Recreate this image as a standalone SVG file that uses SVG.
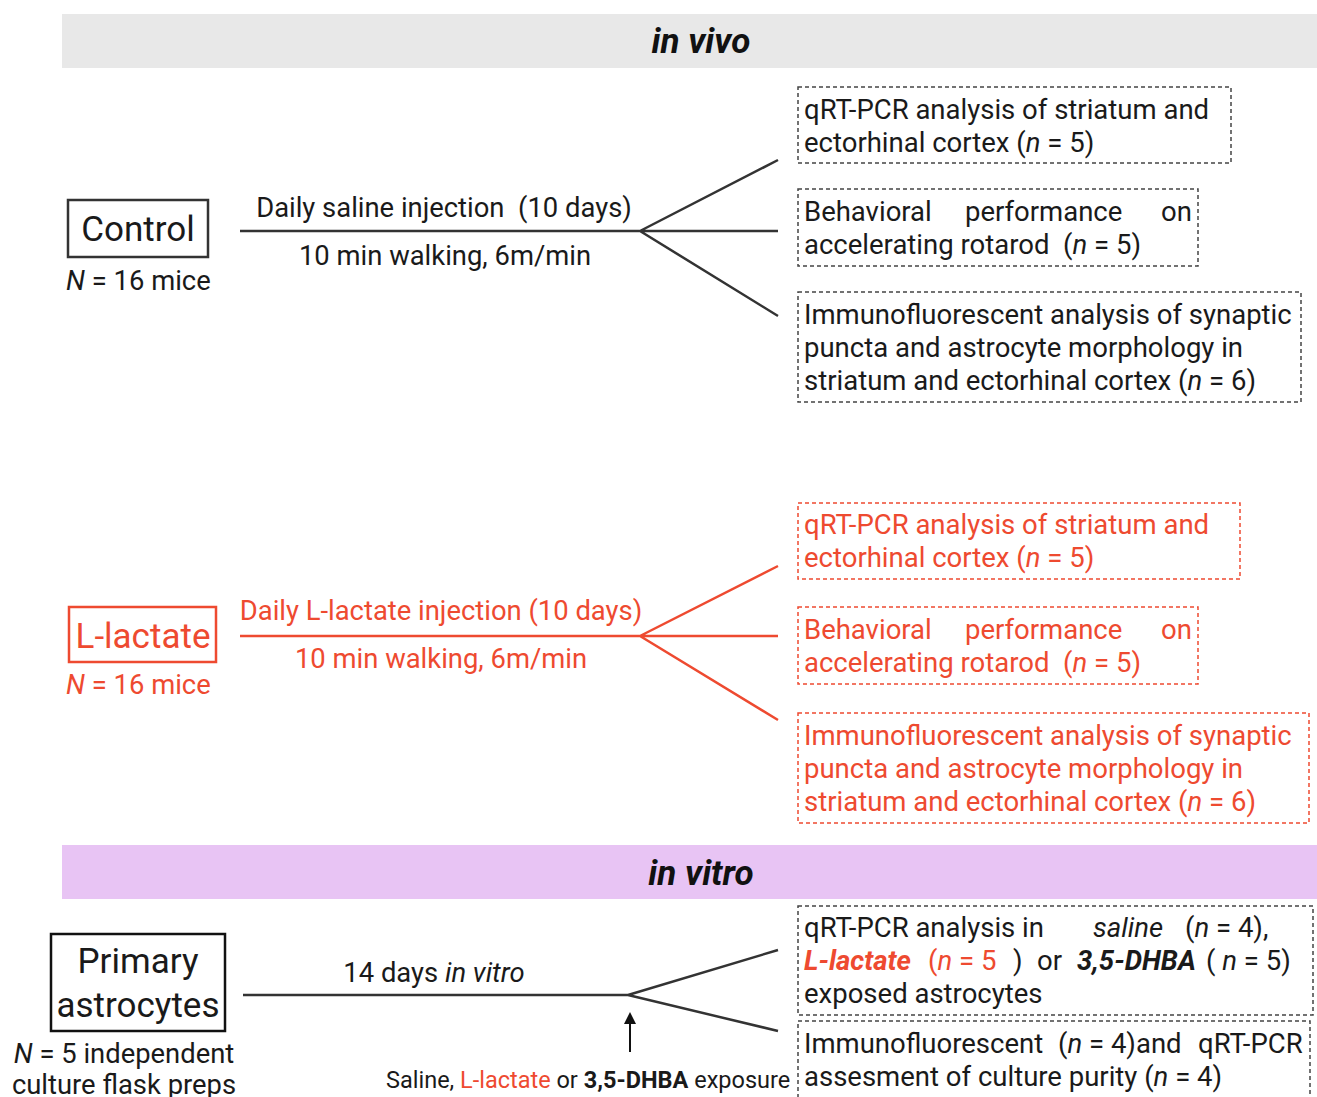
<svg xmlns="http://www.w3.org/2000/svg" width="1317" height="1097" viewBox="0 0 1317 1097">
<defs>
<style>
text{font-family:Roboto,"Liberation Sans",sans-serif;fill:#1a1a1a;white-space:pre}
.t{font-size:27.5px}
.m{font-size:27.4px}
.big{font-size:35px}
.hd{font-size:35px;font-weight:bold;font-style:italic;text-anchor:middle;fill:#111}
.i{font-style:italic}
.b{font-weight:bold}
.red{fill:#ee4a30}
.c{text-anchor:middle}
.dash{fill:none;stroke:#444;stroke-width:1.5;stroke-dasharray:4 3}
.dashr{fill:none;stroke:#ee4a30;stroke-width:1.5;stroke-dasharray:4 3}
.ln{stroke:#333;stroke-width:2.5;fill:none}
.lnr{stroke:#ee4a30;stroke-width:2.5;fill:none}
</style>
<marker id="ah" viewBox="0 0 10 10" refX="5" refY="5" markerWidth="6" markerHeight="6" orient="auto"><path d="M0,0 L10,5 L0,10 z" fill="#111"/></marker>
</defs>
<rect width="1317" height="1097" fill="#fff"/>

<g id="band-invivo"><rect x="62" y="14" width="1255" height="54" fill="#e8e8e8"/><text class="hd" x="701" y="53">in vivo</text></g>
<g id="band-invitro"><rect x="62" y="845" width="1255" height="54" fill="#e8c4f4"/><text class="hd" x="701" y="885">in vitro</text></g>

<g id="connectors">
<path class="ln" d="M240,231 H640 M640,231 L778,160 M640,231 H778 M640,231 L778,316"/>
<path class="lnr" d="M240,636 H640 M640,636 L778,566 M640,636 H778 M640,636 L778,720"/>
<path class="ln" d="M243,995 H628 M628,995 L778,950 M628,995 L778,1031"/>
<line x1="630" y1="1052" x2="630" y2="1018" stroke="#111" stroke-width="2" marker-end="url(#ah)"/>
</g>

<g id="control">
<rect x="68" y="200" width="140" height="57" fill="none" stroke="#333" stroke-width="2.5"/>
<text class="big c" x="138" y="241">Control</text>
<text class="m" x="66" y="290"><tspan class="i">N</tspan> = 16 mice</text>
</g>
<g id="control-labels">
<text class="m c" x="444" y="217">Daily saline injection  (10 days)</text>
<text class="m c" x="445" y="265">10 min walking, 6m/min</text>
</g>
<g id="c-box1"><rect class="dash" x="798" y="87" width="433" height="76"/>
<text class="t" x="804" y="119">qRT-PCR analysis of striatum and</text>
<text class="t" x="804" y="152">ectorhinal cortex (<tspan class="i">n</tspan> = 5)</text></g>
<g id="c-box2"><rect class="dash" x="798" y="189" width="400" height="77"/>
<text class="t" x="804" y="221">Behavioral</text><text class="t" x="965" y="221">performance</text><text class="t" x="1161" y="221">on</text>
<text class="t" x="804" y="254">accelerating rotarod  (<tspan class="i">n</tspan> = 5)</text></g>
<g id="c-box3"><rect class="dash" x="798" y="292" width="503" height="110"/>
<text class="t" x="804" y="324">Immunofluorescent analysis of synaptic</text>
<text class="t" x="804" y="357">puncta and astrocyte morphology in</text>
<text class="t" x="804" y="390">striatum and ectorhinal cortex (<tspan class="i">n</tspan> = 6)</text></g>

<g id="lactate">
<rect x="69" y="607" width="147" height="55" fill="none" stroke="#ee4a30" stroke-width="2.5"/>
<text class="big c red" x="143" y="648">L-lactate</text>
<text class="m red" x="66" y="694"><tspan class="i">N</tspan> = 16 mice</text>
</g>
<g id="lactate-labels">
<text class="m c red" x="441" y="620">Daily L-lactate injection (10 days)</text>
<text class="m c red" x="441" y="668">10 min walking, 6m/min</text>
</g>
<g id="l-box1"><rect class="dashr" x="798" y="503" width="442" height="76"/>
<text class="t red" x="804" y="534">qRT-PCR analysis of striatum and</text>
<text class="t red" x="804" y="567">ectorhinal cortex (<tspan class="i">n</tspan> = 5)</text></g>
<g id="l-box2"><rect class="dashr" x="798" y="607" width="400" height="77"/>
<text class="t red" x="804" y="639">Behavioral</text><text class="t red" x="965" y="639">performance</text><text class="t red" x="1161" y="639">on</text>
<text class="t red" x="804" y="672">accelerating rotarod  (<tspan class="i">n</tspan> = 5)</text></g>
<g id="l-box3"><rect class="dashr" x="798" y="713" width="511" height="110"/>
<text class="t red" x="804" y="745">Immunofluorescent analysis of synaptic</text>
<text class="t red" x="804" y="778">puncta and astrocyte morphology in</text>
<text class="t red" x="804" y="811">striatum and ectorhinal cortex (<tspan class="i">n</tspan> = 6)</text></g>

<g id="astro">
<rect x="51" y="934" width="174" height="97" fill="none" stroke="#111" stroke-width="2.5"/>
<text class="big c" x="138" y="973">Primary</text>
<text class="big c" x="138" y="1017">astrocytes</text>
<text class="m c" x="124" y="1063"><tspan class="i">N</tspan> = 5 independent</text>
<text class="m c" x="124" y="1094">culture flask preps</text>
</g>
<g id="astro-labels">
<text class="m c" x="434" y="982">14 days <tspan class="i">in vitro</tspan></text>
<text x="386" y="1088" style="font-size:23.5px">Saline, <tspan class="red">L-lactate</tspan> or <tspan class="b">3,5-DHBA</tspan> exposure</text>
</g>
<g id="v-box1"><rect class="dash" x="798" y="906" width="515" height="109"/>
<text class="t" x="804" y="937">qRT-PCR analysis in</text><text class="t i" x="1093" y="937">saline</text><text class="t" x="1185" y="937">(<tspan class="i">n</tspan> = 4),</text>
<text class="t" x="804" y="970"><tspan class="b i red">L-lactate</tspan></text><text class="t red" x="928" y="970">(<tspan class="i">n</tspan> = 5</text><text class="t" x="1013" y="970">)</text><text class="t" x="1037" y="970">or</text><text class="t b i" x="1077" y="970">3,5-DHBA</text><text class="t" x="1206" y="970">( <tspan class="i">n</tspan> = 5)</text>
<text class="t" x="804" y="1003">exposed astrocytes</text></g>
<g id="v-box2"><rect class="dash" x="798" y="1021" width="512" height="90"/>
<text class="t" x="804" y="1053">Immunofluorescent</text><text class="t" x="1058" y="1053">(<tspan class="i">n</tspan> = 4)and</text><text class="t" x="1198" y="1053">qRT-PCR</text>
<text class="t" x="804" y="1086">assesment of culture purity (<tspan class="i">n</tspan> = 4)</text></g>
</svg>
